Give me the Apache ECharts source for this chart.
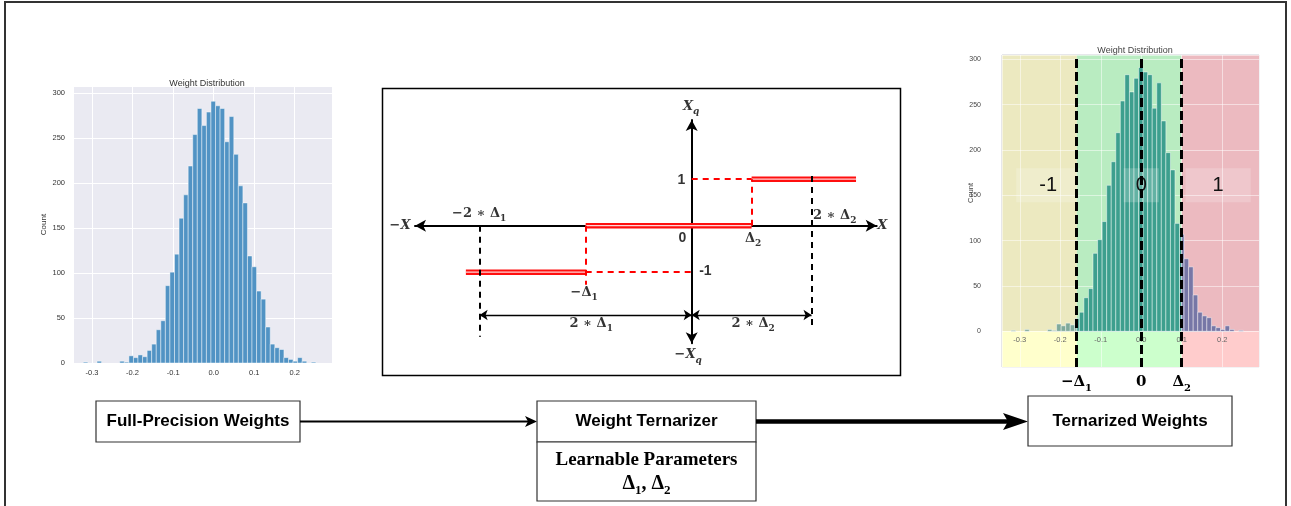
<!DOCTYPE html>
<html>
<head>
<meta charset="utf-8">
<title>Weight Ternarization</title>
<script src="https://cdn.jsdelivr.net/npm/echarts@6/dist/echarts.min.js"></script>
<style>
  html, body { margin: 0; padding: 0; background: #fff; }
  #chart { width: 1291px; height: 506px; }
</style>
</head>
<body>
<div id="chart"></div>
<script>
// histogram of the full-precision weights
var binStart = -0.3216
var binWidth = 0.01125
var counts = [1, 0, 0, 2, 0, 0, 0, 0, 2, 1, 8, 6, 9, 7, 14, 21, 37, 47, 86, 101,
  121, 161, 187, 219, 254, 283, 264, 279, 291, 286, 283, 246, 274, 232, 197, 178,
  119, 107, 80, 71, 40, 21, 17, 15, 6, 4, 2, 6, 2, 0, 1]

// learned thresholds on the weight axis
var delta1 = 0.159
var delta2 = 0.1
var zoneNames = ['-1', '0', '1']
var zoneLabelX = [-0.23, 0, 0.19]
var zoneLabelY = 161

// axis ranges of the two histograms
var leftX = [-0.347, 0.292]
var leftY = [0, 308]
var rightX = [-0.344, 0.291]
var rightY = [-39.4, 304.7]

// ternarizer diagram (x in units of delta1)
var quantLevels = [-1, 0, 1]
var stepEdges = [-2.13, -1, 0.565, 1.55]
var diagX = [-2.61, 1.745]
var diagY = [-2.529, 2.273]
var dimY = -1.92

var serif = "'Liberation Serif', 'DejaVu Serif', serif"
var math = "'DejaVu Serif', 'Liberation Serif', serif"
var sans = "'Liberation Sans', Arial, sans-serif"

var bins = counts.map(function (c, i) {
  return [binStart + i * binWidth, binStart + (i + 1) * binWidth, c]
})

function histRender(zones) {
  return function (params, api) {
    var lo = api.value(0), hi = api.value(1), n = api.value(2)
    var children = []
    if (n <= 0) return { type: 'group', children: children }
    zones.forEach(function (z) {
      var a = Math.max(lo, z.from), b = Math.min(hi, z.to)
      if (b <= a) return
      var p0 = api.coord([a, n]), p1 = api.coord([b, 0])
      children.push({
        type: 'rect',
        shape: { x: p0[0], y: p0[1], width: p1[0] - p0[0], height: p1[1] - p0[1] },
        style: { fill: z.color, stroke: 'rgba(255,255,255,0.75)', lineWidth: 0.6 }
      })
    })
    return { type: 'group', children: children }
  }
}

var mathRich = {
  m: { fontFamily: math, fontWeight: 'bold', fontSize: 13, color: '#000', lineHeight: 20, verticalAlign: 'middle' },
  mi: { fontFamily: math, fontWeight: 'bold', fontStyle: 'italic', fontSize: 13, color: '#000', lineHeight: 20, verticalAlign: 'middle' },
  s: { fontFamily: math, fontWeight: 'bold', fontSize: 9, color: '#000', lineHeight: 20, verticalAlign: 'bottom' },
  si: { fontFamily: math, fontWeight: 'bold', fontStyle: 'italic', fontSize: 9, color: '#000', lineHeight: 20, verticalAlign: 'bottom' },
  n: { fontFamily: sans, fontWeight: 'bold', fontSize: 14, color: '#000' },
  b: { fontFamily: math, fontWeight: 'bold', fontSize: 15, color: '#000', lineHeight: 22, verticalAlign: 'middle' },
  bs: { fontFamily: math, fontWeight: 'bold', fontSize: 10, color: '#000', lineHeight: 22, verticalAlign: 'bottom' }
}

// labels of the diagram: [x, y, text]
var diagramMarks = [
  [diagX[0], 0, '{m|−}{mi|X}'],
  [diagX[1], 0, '{mi|X}'],
  [0, diagY[1], '{mi|X}{si|q}'],
  [0, diagY[0], '{m|−}{mi|X}{si|q}'],
  [0, 1, '{n|1}'],
  [0, 0, '{n|0}'],
  [0, -1, '{n|-1}'],
  [0.565, 0, '{m|Δ}{s|2}'],
  [-1, -1.27, '{m|−Δ}{s|1}'],
  [-2, 0, '{m|−2 ∗ Δ}{s|1}'],
  [1.13, 0, '{m|2 ∗ Δ}{s|2}'],
  [-1, dimY, '{m|2 ∗ Δ}{s|1}'],
  [0.565, dimY, '{m|2 ∗ Δ}{s|2}']
]
var markPlacement = [
  { position: [-4, 0], align: 'right', verticalAlign: 'middle' },
  { position: [1, 0], align: 'left', verticalAlign: 'middle' },
  { position: [0, -3], align: 'center', verticalAlign: 'bottom' },
  { position: [-3, 2], align: 'center', verticalAlign: 'top' },
  { position: [-6, 1], align: 'right', verticalAlign: 'middle' },
  { position: [-5, 6], align: 'right', verticalAlign: 'top' },
  { position: [8, -1], align: 'left', verticalAlign: 'middle' },
  { position: [2, 3], align: 'center', verticalAlign: 'top' },
  { position: [-1, -2], align: 'center', verticalAlign: 'top' },
  { position: [0, -2], align: 'center', verticalAlign: 'bottom' },
  { position: [2, 0], align: 'left', verticalAlign: 'bottom' },
  { position: [6, -1], align: 'center', verticalAlign: 'top' },
  { position: [2, -1], align: 'center', verticalAlign: 'top' }
]

var chart = echarts.init(document.getElementById('chart'))

var redSeries = []
quantLevels.forEach(function (lv, i) {
  var seg = [[stepEdges[i], lv], [stepEdges[i + 1], lv]]
  redSeries.push({
    type: 'line', xAxisIndex: 1, yAxisIndex: 1, data: seg, symbol: 'none', z: 3,
    lineStyle: { color: '#ff0f0f', width: 5.5 }, silent: true
  })
  redSeries.push({
    type: 'line', xAxisIndex: 1, yAxisIndex: 1, data: seg, symbol: 'none', z: 4,
    lineStyle: { color: '#ffd6d6', width: 1.2 }, silent: true
  })
})

// dashed guides of the diagram
redSeries[0].markLine = {
  silent: true, symbol: ['none', 'none'], label: { show: false },
  lineStyle: { color: '#ff0000', width: 2, type: [6, 5] },
  data: [
    [{ coord: [-1, 0] }, { coord: [-1, -1.27] }],
    [{ coord: [-1, -1] }, { coord: [0, -1] }],
    [{ coord: [0.565, 0] }, { coord: [0.565, 1] }],
    [{ coord: [0, 1] }, { coord: [0.565, 1] }]
  ]
}
redSeries[2].markLine = {
  silent: true, symbol: ['none', 'none'], label: { show: false },
  lineStyle: { color: '#000', width: 2, type: [6, 5] },
  data: [
    [{ coord: [-2, 0] }, { coord: [-2, -2.39] }],
    [{ coord: [1.13, 1.07] }, { coord: [1.13, -2.24] }]
  ]
}
redSeries[4].markLine = {
  silent: true, symbol: ['arrow', 'arrow'], symbolSize: 8, label: { show: false },
  lineStyle: { color: '#000', width: 1.3, type: 'solid' },
  data: [
    [{ coord: [-2, dimY] }, { coord: [0, dimY] }],
    [{ coord: [0, dimY] }, { coord: [1.13, dimY] }]
  ]
}

var zonesRight = [
  { from: rightX[0], to: -delta1, color: '#7fa99b', top: '#ece9c0', low: '#ffffcc' },
  { from: -delta1, to: delta2, color: '#3d9f8e', top: '#b9ecc1', low: '#ccffcc' },
  { from: delta2, to: rightX[1], color: '#7777a6', top: '#ecbac0', low: '#ffcccc' }
]

var zoneAreas = []
zonesRight.forEach(function (z) {
  zoneAreas.push([{ coord: [z.from, 0], itemStyle: { color: z.top } }, { coord: [z.to, rightY[1]] }])
  zoneAreas.push([{ coord: [z.from, rightY[0]], itemStyle: { color: z.low } }, { coord: [z.to, 0] }])
})

var zonePadding = [[7, 23], [7, 12], [7, 27]]

// right plot: tick labels sit on the zero line, not at the bottom edge
var rightGridTop = 55
var rightGridHeight = 312
var zeroLift = -rightGridHeight * (0 - rightY[0]) / (rightY[1] - rightY[0])

function tickFmt(v) {
  return Math.abs(v) < 1e-9 ? '0.0' : v.toFixed(1)
}

chart.setOption({
  animation: false,
  backgroundColor: '#fff',
  title: [{
    text: 'Weight Distribution', left: 202, top: 74, textAlign: 'center',
    textStyle: { fontSize: 9, fontWeight: 'normal', color: '#333', fontFamily: sans }
  }, {
    text: 'Weight Distribution', left: 1130, top: 41, textAlign: 'center',
    textStyle: { fontSize: 9, fontWeight: 'normal', color: '#444', fontFamily: sans }
  }],
  grid: [
    { left: 73, top: 86, width: 259, height: 277, show: true, backgroundColor: '#eaeaf2', borderWidth: 0 },
    { left: 415, top: 120, width: 461.7, height: 223.3 },
    { left: 1002, top: rightGridTop, width: 257, height: rightGridHeight, show: true, backgroundColor: 'transparent', borderColor: '#cfcfd6', borderWidth: 1 }
  ],
  xAxis: [{
    type: 'value', gridIndex: 0, min: leftX[0], max: leftX[1], splitNumber: 6,
    axisLine: { show: false }, axisTick: { show: false },
    axisLabel: { fontSize: 7.5, color: '#333', margin: 6, showMinLabel: false, showMaxLabel: false, formatter: tickFmt, fontFamily: sans },
    splitLine: { lineStyle: { color: '#fff', width: 1 } }
  }, {
    type: 'value', gridIndex: 1, min: diagX[0], max: diagX[1],
    axisLine: { onZero: true, symbol: ['arrow', 'arrow'], symbolSize: [9, 11], lineStyle: { color: '#000', width: 2 } },
    axisTick: { show: false }, axisLabel: { show: false }, splitLine: { show: false }
  }, {
    type: 'value', gridIndex: 2, min: rightX[0], max: rightX[1], splitNumber: 6, z: 1.5,
    offset: zeroLift,
    axisLine: { show: false, onZero: false }, axisTick: { show: false },
    axisLabel: { fontSize: 7.5, color: '#666', margin: 5, showMinLabel: false, showMaxLabel: false, formatter: tickFmt, fontFamily: sans },
    splitLine: { lineStyle: { color: 'rgba(255,255,255,0.5)', width: 1 } }
  }],
  yAxis: [{
    type: 'value', gridIndex: 0, min: leftY[0], max: leftY[1], interval: 50,
    axisLine: { show: false }, axisTick: { show: false },
    axisLabel: { fontSize: 7.5, color: '#333', margin: 8, showMaxLabel: false, fontFamily: sans },
    splitLine: { lineStyle: { color: '#fff', width: 1 } },
    name: 'Count', nameLocation: 'middle', nameGap: 25,
    nameTextStyle: { fontSize: 8, color: '#333', fontFamily: sans }
  }, {
    type: 'value', gridIndex: 1, min: diagY[0], max: diagY[1],
    axisLine: { onZero: true, symbol: ['arrow', 'arrow'], symbolSize: [9, 11], lineStyle: { color: '#000', width: 2 } },
    axisTick: { show: false }, axisLabel: { show: false }, splitLine: { show: false }
  }, {
    type: 'value', gridIndex: 2, min: rightY[0], max: rightY[1], splitNumber: 6, z: 1.5,
    axisLine: { show: false, onZero: false }, axisTick: { show: false },
    axisLabel: { fontSize: 7, color: '#444', margin: 21, showMinLabel: false, showMaxLabel: false, fontFamily: sans },
    splitLine: { lineStyle: { color: 'rgba(255,255,255,0.5)', width: 1 } },
    name: 'Count', nameLocation: 'middle', nameGap: 27, nameMoveOverlap: false,
    nameTextStyle: { fontSize: 7.5, color: '#444', fontFamily: sans, padding: [0, 0, 0, 36] }
  }],
  series: [{
    type: 'custom', name: 'full precision', xAxisIndex: 0, yAxisIndex: 0,
    renderItem: histRender([{ from: -1, to: 1, color: '#5193c4' }]),
    encode: { x: [0, 1], y: 2 }, data: bins, silent: true
  }, {
    type: 'custom', name: 'ternarized', xAxisIndex: 2, yAxisIndex: 2, z: 2,
    renderItem: histRender(zonesRight),
    encode: { x: [0, 1], y: 2 }, data: bins, silent: true,
    markArea: { silent: true, z: 1, data: zoneAreas },
    markPoint: {
      silent: true, symbol: 'circle', symbolSize: 0, z: 4,
      data: zoneNames.map(function (t, i) {
        return {
          coord: [zoneLabelX[i], zoneLabelY],
          label: {
            show: true, formatter: t, fontSize: 20, color: '#111', fontFamily: sans,
            backgroundColor: 'rgba(255,255,255,0.2)', padding: zonePadding[i]
          }
        }
      })
    },
    markLine: {
      silent: true, symbol: ['none', 'none'],
      lineStyle: { color: '#000', width: 3, type: [9, 4] },
      label: { show: true, position: 'start', distance: 4, rich: mathRich },
      data: [
        { xAxis: -delta1, label: { formatter: '{b|−Δ}{bs|1}' } },
        { xAxis: 0, label: { formatter: '{b|0}' } },
        { xAxis: delta2, label: { formatter: '{b|Δ}{bs|2}' } }
      ]
    }
  }].concat(redSeries).concat([{
    type: 'scatter', name: 'labels', xAxisIndex: 1, yAxisIndex: 1, z: 6,
    symbol: 'circle', symbolSize: 1, itemStyle: { color: 'rgba(0,0,0,0)' }, silent: true,
    data: diagramMarks.map(function (d, i) {
      var p = markPlacement[i]
      return {
        value: [d[0], d[1]],
        label: {
          show: true, formatter: d[2], rich: mathRich,
          position: p.position, align: p.align, verticalAlign: p.verticalAlign
        }
      }
    })
  }]),
  graphic: { elements: [
    { type: 'rect', silent: true, z: -1, shape: { x: 5, y: 2, width: 1281, height: 510 }, style: { fill: 'none', stroke: '#333', lineWidth: 2 } },
    { type: 'rect', silent: true, z: -1, shape: { x: 382.5, y: 88.5, width: 518, height: 287 }, style: { fill: 'none', stroke: '#000', lineWidth: 1.5 } },

    { type: 'rect', silent: true, shape: { x: 96, y: 401, width: 204, height: 41 }, style: { fill: '#fff', stroke: '#333', lineWidth: 1.2 } },
    { type: 'text', silent: true, x: 198, y: 421.5, style: { text: 'Full-Precision Weights', fill: '#000', fontFamily: sans, fontWeight: 'bold', fontSize: 17, align: 'center', verticalAlign: 'middle' } },
    { type: 'line', silent: true, shape: { x1: 300, y1: 421.5, x2: 529, y2: 421.5 }, style: { stroke: '#000', lineWidth: 2 } },
    { type: 'polygon', silent: true, shape: { points: [[525, 416], [537, 421.5], [525, 427], [528, 421.5]] }, style: { fill: '#000' } },

    { type: 'rect', silent: true, shape: { x: 537, y: 401, width: 219, height: 41 }, style: { fill: '#fff', stroke: '#333', lineWidth: 1.2 } },
    { type: 'text', silent: true, x: 646.5, y: 421.5, style: { text: 'Weight Ternarizer', fill: '#000', fontFamily: sans, fontWeight: 'bold', fontSize: 17, align: 'center', verticalAlign: 'middle' } },
    { type: 'rect', silent: true, shape: { x: 537, y: 442, width: 219, height: 59 }, style: { fill: '#fff', stroke: '#333', lineWidth: 1.2 } },
    { type: 'text', silent: true, x: 646.5, y: 460, style: { text: 'Learnable Parameters', fill: '#000', fontFamily: serif, fontWeight: 'bold', fontSize: 19, align: 'center', verticalAlign: 'middle' } },
    { type: 'text', silent: true, x: 646.5, y: 484, style: {
      text: '{a|Δ}{b|1}{a|, Δ}{b|2}', align: 'center', verticalAlign: 'middle',
      rich: {
        a: { fontFamily: serif, fontWeight: 'bold', fontSize: 20, fill: '#000', lineHeight: 26, verticalAlign: 'middle' },
        b: { fontFamily: serif, fontWeight: 'bold', fontSize: 13, fill: '#000', lineHeight: 26, verticalAlign: 'bottom' }
      }
    } },

    { type: 'line', silent: true, shape: { x1: 756, y1: 421.5, x2: 1008, y2: 421.5 }, style: { stroke: '#000', lineWidth: 4.5 } },
    { type: 'polygon', silent: true, shape: { points: [[1003, 413], [1028, 421.5], [1003, 430], [1008, 421.5]] }, style: { fill: '#000' } },

    { type: 'rect', silent: true, shape: { x: 1028, y: 396, width: 204, height: 50 }, style: { fill: '#fff', stroke: '#333', lineWidth: 1.2 } },
    { type: 'text', silent: true, x: 1130, y: 421.5, style: { text: 'Ternarized Weights', fill: '#000', fontFamily: sans, fontWeight: 'bold', fontSize: 17, align: 'center', verticalAlign: 'middle' } }
  ] }
})
</script>
</body>
</html>
